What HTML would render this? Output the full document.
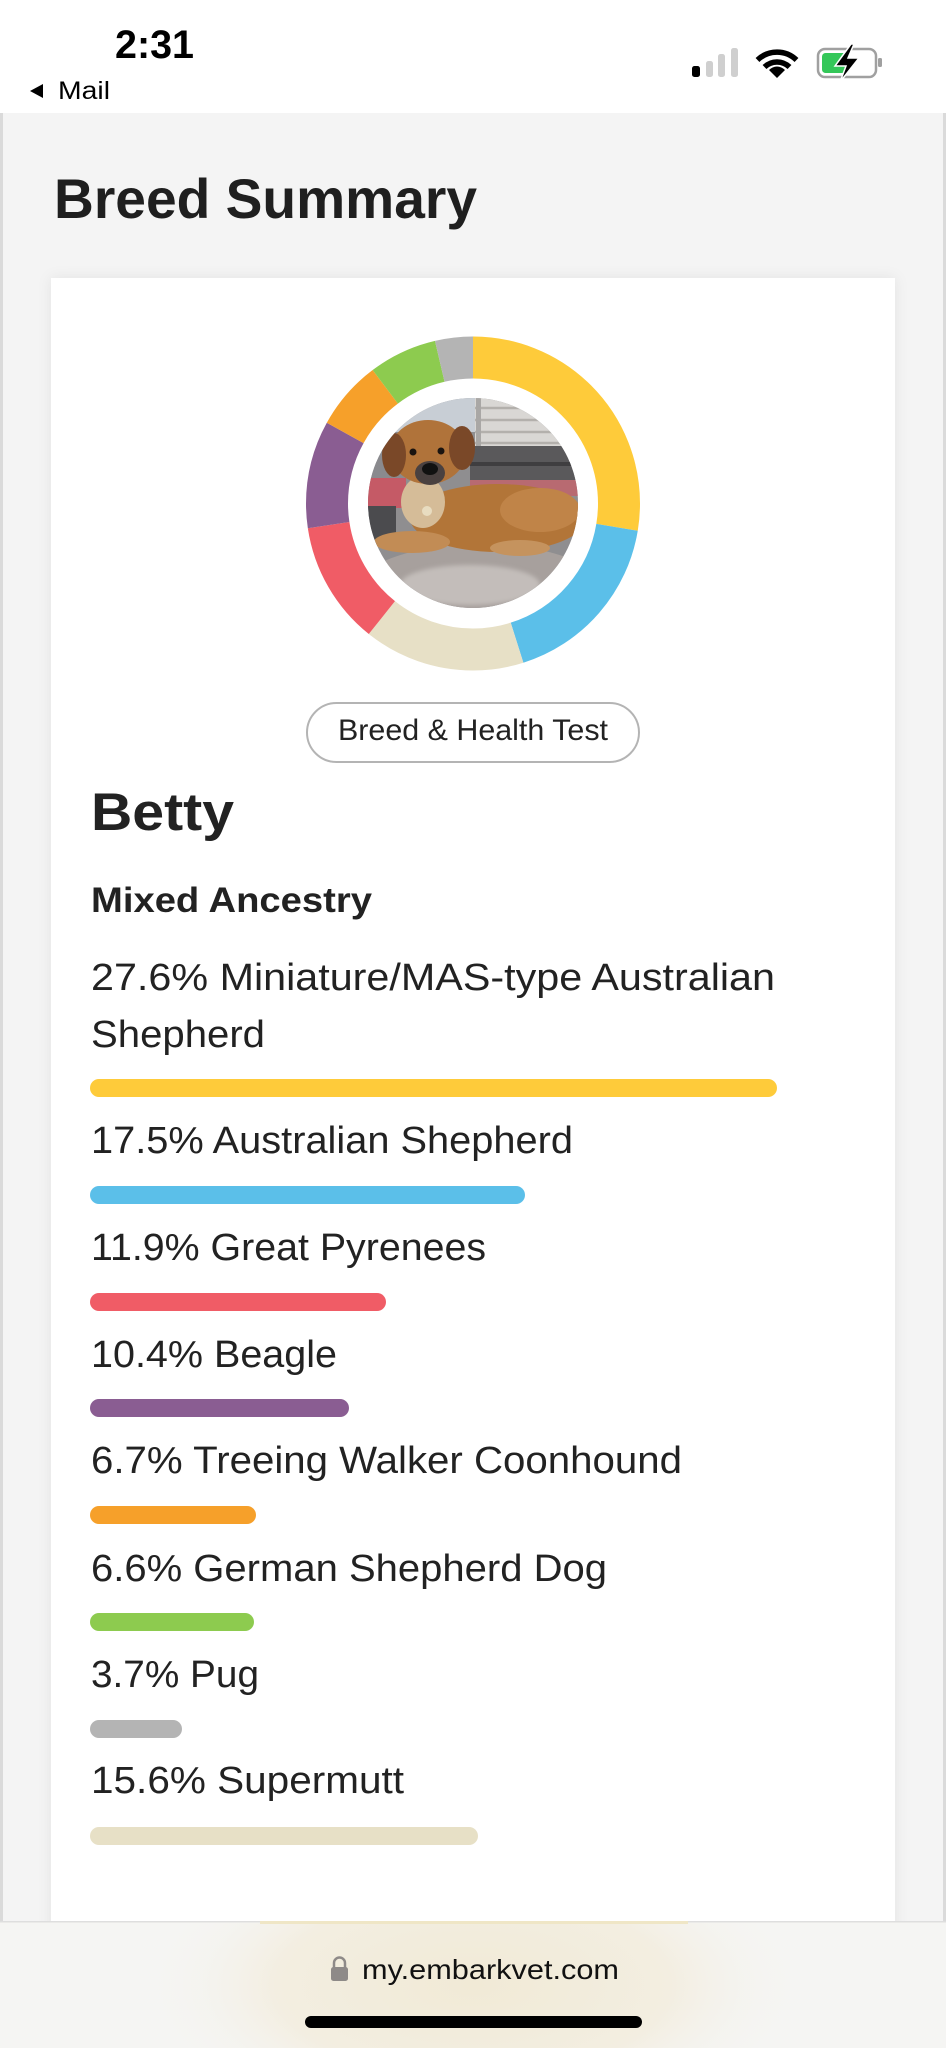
<!DOCTYPE html>
<html><head><meta charset="utf-8">
<style>
html,body{margin:0;padding:0;width:946px;height:2048px;overflow:hidden;background:#fff;}
svg{display:block;}
text{font-family:"Liberation Sans",Arial,sans-serif;}
</style></head><body>
<svg width="946" height="2048" viewBox="0 0 946 2048" xmlns="http://www.w3.org/2000/svg">
<defs>
  <filter id="sh" x="-5%" y="-5%" width="110%" height="110%">
    <feDropShadow dx="0" dy="0" stdDeviation="7" flood-color="#000" flood-opacity="0.07"/>
  </filter>
  <clipPath id="ph"><circle cx="473" cy="503" r="105"/></clipPath>
  <clipPath id="bb"><rect x="0" y="1923" width="946" height="125"/></clipPath>
  <radialGradient id="glow" cx="0.5" cy="0.5" r="0.5">
    <stop offset="0" stop-color="#f1ead6"/>
    <stop offset="0.6" stop-color="#f3eee1"/>
    <stop offset="1" stop-color="#f5f5f3" stop-opacity="0"/>
  </radialGradient>
  <filter id="blur"><feGaussianBlur stdDeviation="2"/></filter>
</defs>

<!-- status bar -->
<rect width="946" height="113" fill="#fff"/>
<text x="115" y="58" font-size="40" font-weight="bold" fill="#000" textLength="79" lengthAdjust="spacingAndGlyphs">2:31</text>
<path d="M30 91 L43 84 L43 98 Z" fill="#000"/>
<text x="58" y="99" font-size="25" fill="#000" textLength="52" lengthAdjust="spacingAndGlyphs">Mail</text>
<!-- signal -->
<rect x="692" y="66" width="8" height="11" rx="2.5" fill="#000"/>
<rect x="706" y="61" width="7" height="16" rx="2.5" fill="#cfcfcf"/>
<rect x="718" y="54" width="7" height="23" rx="2.5" fill="#cfcfcf"/>
<rect x="731" y="48" width="7" height="29" rx="2.5" fill="#cfcfcf"/>
<!-- wifi -->
<g fill="none" stroke="#000" stroke-width="5.5" stroke-linecap="butt">
  <path d="M757.5 60 A28 28 0 0 1 796.5 60"/>
  <path d="M764.5 67 A18 18 0 0 1 789.5 67"/>
</g>
<path d="M777 78 L769 70 A11 11 0 0 1 785 70 Z" fill="#000"/>
<!-- battery -->
<rect x="818" y="49" width="58" height="28" rx="7" fill="none" stroke="#a0a0a0" stroke-width="2.5"/>
<rect x="822" y="53" width="26" height="20" rx="3.5" fill="#34c759"/>
<rect x="878" y="58" width="4" height="9" rx="1.5" fill="#a0a0a0"/>
<path d="M851 44 L835 66 L846 66 L840 82 L859 58 L848 58 L854 44 Z" fill="#000" stroke="#fff" stroke-width="1.5"/>

<!-- page background -->
<rect y="113" width="946" height="1809" fill="#f4f4f4"/>
<rect x="0" y="113" width="3" height="1809" fill="#dadada"/>
<rect x="943" y="113" width="3" height="1809" fill="#dadada"/>

<text x="54" y="218" font-size="56" font-weight="bold" fill="#1f1f1f" textLength="423" lengthAdjust="spacingAndGlyphs">Breed Summary</text>

<!-- card -->
<rect x="51" y="278" width="844" height="1700" fill="#fff" filter="url(#sh)"/>

<!-- donut -->
<g transform="rotate(-90 473 503.5)" fill="none" stroke-width="42">
  <circle cx="473" cy="503.5" r="146" stroke="#FECB3A" stroke-dasharray="253.19 917.35" stroke-dashoffset="0"/>
  <circle cx="473" cy="503.5" r="146" stroke="#5BBFE9" stroke-dasharray="160.54 917.35" stroke-dashoffset="-253.19"/>
  <circle cx="473" cy="503.5" r="146" stroke="#E7E0C6" stroke-dasharray="143.11 917.35" stroke-dashoffset="-413.73"/>
  <circle cx="473" cy="503.5" r="146" stroke="#F05C66" stroke-dasharray="109.16 917.35" stroke-dashoffset="-556.84"/>
  <circle cx="473" cy="503.5" r="146" stroke="#8A5D92" stroke-dasharray="95.40 917.35" stroke-dashoffset="-666.00"/>
  <circle cx="473" cy="503.5" r="146" stroke="#F6A02A" stroke-dasharray="61.46 917.35" stroke-dashoffset="-761.40"/>
  <circle cx="473" cy="503.5" r="146" stroke="#8DCB4F" stroke-dasharray="60.55 917.35" stroke-dashoffset="-822.86"/>
  <circle cx="473" cy="503.5" r="146" stroke="#B4B4B4" stroke-dasharray="33.94 917.35" stroke-dashoffset="-883.41"/>
</g>

<!-- photo -->
<g clip-path="url(#ph)">
  <rect x="366" y="396" width="214" height="214" fill="#8f8e90"/>
  <rect x="366" y="396" width="112" height="36" fill="#c8ced5"/>
  <rect x="475" y="396" width="105" height="50" fill="#d9d7d4"/>
  <g stroke="#b3b0ac" stroke-width="2.5">
    <line x1="475" y1="408" x2="580" y2="408"/>
    <line x1="475" y1="420" x2="580" y2="420"/>
    <line x1="475" y1="432" x2="580" y2="432"/>
    <line x1="475" y1="443" x2="580" y2="443"/>
  </g>
  <rect x="476" y="398" width="5" height="48" fill="#a9a7a5"/>
  <rect x="470" y="446" width="110" height="34" fill="#5a595b"/>
  <rect x="470" y="462" width="110" height="4" fill="#3f3e40"/>
  <rect x="366" y="432" width="40" height="48" fill="#8a8a8e"/>
  <rect x="366" y="478" width="40" height="30" fill="#c55a66"/>
  <rect x="470" y="480" width="110" height="16" fill="#b86a71"/>
  <rect x="366" y="506" width="30" height="40" fill="#4b4b4e"/>
  <!-- pillow -->
  <ellipse cx="480" cy="592" rx="125" ry="48" fill="#a7a09d"/>
  <ellipse cx="470" cy="585" rx="70" ry="20" fill="#c3bdba" filter="url(#blur)"/>
  <!-- dog body -->
  <ellipse cx="498" cy="518" rx="88" ry="34" fill="#b27538"/>
  <ellipse cx="540" cy="510" rx="40" ry="22" fill="#c08448"/>
  <ellipse cx="412" cy="542" rx="38" ry="11" fill="#c28c55"/>
  <ellipse cx="520" cy="548" rx="30" ry="8" fill="#c5935e"/>
  <ellipse cx="423" cy="502" rx="22" ry="26" fill="#d5bc98"/>
  <!-- head -->
  <ellipse cx="428" cy="452" rx="38" ry="32" fill="#b0733a"/>
  <ellipse cx="394" cy="455" rx="12" ry="22" fill="#7a4828"/>
  <ellipse cx="462" cy="448" rx="13" ry="22" fill="#7a4828"/>
  <ellipse cx="430" cy="473" rx="15" ry="12" fill="#4a4140"/>
  <ellipse cx="430" cy="469" rx="8" ry="6" fill="#111"/>
  <circle cx="413" cy="452" r="3.5" fill="#1a1410"/>
  <circle cx="441" cy="451" r="3.5" fill="#1a1410"/>
  <circle cx="427" cy="511" r="5" fill="#e8dcc0"/>
</g>

<!-- button -->
<rect x="307" y="703" width="332" height="59" rx="29.5" fill="#fff" stroke="#b4b4b4" stroke-width="2"/>
<text x="473" y="740" font-size="30" fill="#222" text-anchor="middle" textLength="270" lengthAdjust="spacingAndGlyphs">Breed &amp; Health Test</text>

<!-- name -->
<text x="91" y="830" font-size="53" font-weight="bold" fill="#222" textLength="143" lengthAdjust="spacingAndGlyphs">Betty</text>
<text x="91" y="912" font-size="35" font-weight="bold" fill="#222" textLength="281" lengthAdjust="spacingAndGlyphs">Mixed Ancestry</text>

<!-- items -->
<g font-size="38" fill="#222">
  <text x="91" y="990" textLength="684" lengthAdjust="spacingAndGlyphs">27.6% Miniature/MAS-type Australian</text>
  <text x="91" y="1047" textLength="174" lengthAdjust="spacingAndGlyphs">Shepherd</text>
  <text x="91" y="1153" textLength="482" lengthAdjust="spacingAndGlyphs">17.5% Australian Shepherd</text>
  <text x="91" y="1260" textLength="395" lengthAdjust="spacingAndGlyphs">11.9% Great Pyrenees</text>
  <text x="91" y="1367" textLength="246" lengthAdjust="spacingAndGlyphs">10.4% Beagle</text>
  <text x="91" y="1473" textLength="591" lengthAdjust="spacingAndGlyphs">6.7% Treeing Walker Coonhound</text>
  <text x="91" y="1581" textLength="516" lengthAdjust="spacingAndGlyphs">6.6% German Shepherd Dog</text>
  <text x="91" y="1687" textLength="168" lengthAdjust="spacingAndGlyphs">3.7% Pug</text>
  <text x="91" y="1793" textLength="313" lengthAdjust="spacingAndGlyphs">15.6% Supermutt</text>
</g>

<!-- bars -->
<rect x="90" y="1079" width="687" height="18" rx="9" fill="#FECB3A"/>
<rect x="90" y="1186" width="435" height="18" rx="9" fill="#5BBFE9"/>
<rect x="90" y="1293" width="296" height="18" rx="9" fill="#F05C66"/>
<rect x="90" y="1399" width="259" height="18" rx="9" fill="#8A5D92"/>
<rect x="90" y="1506" width="166" height="18" rx="9" fill="#F6A02A"/>
<rect x="90" y="1613" width="164" height="18" rx="9" fill="#8DCB4F"/>
<rect x="90" y="1720" width="92" height="18" rx="9" fill="#B4B4B4"/>
<rect x="90" y="1827" width="388" height="18" rx="9" fill="#E7E0C6"/>

<!-- bottom bar -->
<rect y="1922" width="946" height="126" fill="#f5f5f3"/>
<g clip-path="url(#bb)">
  <ellipse cx="473" cy="1985" rx="330" ry="150" fill="url(#glow)"/>
</g>
<rect x="0" y="1921" width="946" height="1.5" fill="#dedede"/>
<rect x="260" y="1921" width="428" height="3" fill="#efe6c6"/>
<!-- lock -->
<path d="M334 1968 L334 1963 A5.5 5.5 0 0 1 345 1963 L345 1968" fill="none" stroke="#8e8a88" stroke-width="2.5"/>
<rect x="331" y="1967" width="17" height="14" rx="2.5" fill="#8e8a88"/>
<text x="362" y="1979" font-size="28" fill="#111" textLength="257" lengthAdjust="spacingAndGlyphs">my.embarkvet.com</text>
<rect x="305" y="2016" width="337" height="12" rx="6" fill="#000"/>
</svg>
</body></html>
